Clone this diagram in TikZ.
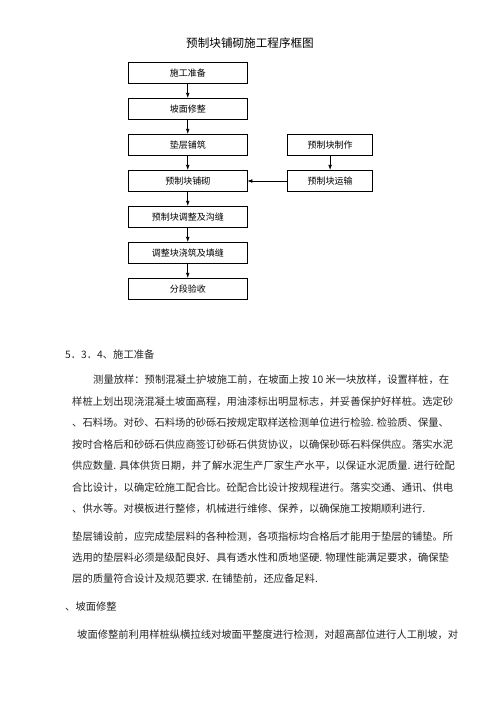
\documentclass[tikz,border=0pt]{standalone}
\usepackage{fontspec}
\setmainfont{Noto Sans CJK SC}
\usetikzlibrary{positioning,arrows.meta}

\tikzset{
  stepbox/.style={draw, line width=0.6pt, minimum width=118.5pt, minimum height=21.5pt,
    inner sep=0pt, font=\fontsize{9pt}{10pt}\selectfont},
  sidebox/.style={stepbox, minimum width=85pt},
  flow/.style={-{Latex[length=5pt,width=3.6pt]}, line width=0.6pt},
  textline/.style={anchor=west, inner sep=0pt, text=black!85,
    font=\fontsize{10.3pt}{12pt}\selectfont}
}

\begin{document}
\begin{tikzpicture}[x=1pt,y=-1pt,node distance=13.9pt]
  \fill[white] (0,0) rectangle (500,707);
  \useasboundingbox (0,0) rectangle (500,707);

  % flow chart
  \node[font=\fontsize{11.6pt}{13pt}\selectfont] (title) at (250,43) {预制块铺砌施工程序框图};
  \node[stepbox] (prep) at (187.75,73) {施工准备};
  \node[stepbox, below=of prep] (slope) {坡面修整};
  \node[stepbox, below=of slope] (cushion) {垫层铺筑};
  \node[stepbox, below=of cushion] (lay) {预制块铺砌};
  \node[stepbox, below=of lay] (adjust) {预制块调整及沟缝};
  \node[stepbox, below=of adjust] (fill) {调整块浇筑及填缝};
  \node[stepbox, below=of fill] (accept) {分段验收};
  \node[sidebox, right=40pt of cushion] (make) {预制块制作};
  \node[sidebox, right=40pt of lay] (haul) {预制块运输};

  \draw[flow] (prep) -- (slope);
  \draw[flow] (slope) -- (cushion);
  \draw[flow] (cushion) -- (lay);
  \draw[flow] (lay) -- (adjust);
  \draw[flow] (adjust) -- (fill);
  \draw[flow] (fill) -- (accept);
  \draw[flow] (make) -- (haul);
  \draw[flow] (haul) -- (lay);

  % text below
  \node[textline] (h1) at (65,355) {5．3．4、施工准备};
  \node[textline] (a1) at (93,380) {测量放样：预制混凝土护坡施工前，在坡面上按 10 米一块放样，设置样桩，在};
  \node[textline] (a2) at (72,401.5) {样桩上划出现浇混凝土坡面高程，用油漆标出明显标志，并妥善保护好样桩。选定砂};
  \node[textline] (a3) at (72,423) {、石料场。对砂、石料场的砂砾石按规定取样送检测单位进行检验. 检验质、保量、};
  \node[textline] (a4) at (72,444.5) {按时合格后和砂砾石供应商签订砂砾石供货协议，以确保砂砾石料保供应。落实水泥};
  \node[textline] (a5) at (72,466) {供应数量. 具体供货日期，并了解水泥生产厂家生产水平，以保证水泥质量. 进行砼配};
  \node[textline] (a6) at (72,487.5) {合比设计，以确定砼施工配合比。砼配合比设计按规程进行。落实交通、通讯、供电};
  \node[textline] (a7) at (72,509) {、供水等。对模板进行整修，机械进行维修、保养，以确保施工按期顺利进行.};

  \node[textline] (b1) at (72,537) {垫层铺设前，应完成垫层料的各种检测，各项指标均合格后才能用于垫层的铺垫。所};
  \node[textline] (b2) at (72,558) {选用的垫层料必须是级配良好、具有透水性和质地坚硬. 物理性能满足要求，确保垫};
  \node[textline] (b3) at (72,579) {层的质量符合设计及规范要求. 在铺垫前，还应备足料.};

  \node[textline] (h2) at (65,607) {、坡面修整};
  \node[textline] (c1) at (77,635) {坡面修整前利用样桩纵横拉线对坡面平整度进行检测，对超高部位进行人工削坡，对};
\end{tikzpicture}
\end{document}
